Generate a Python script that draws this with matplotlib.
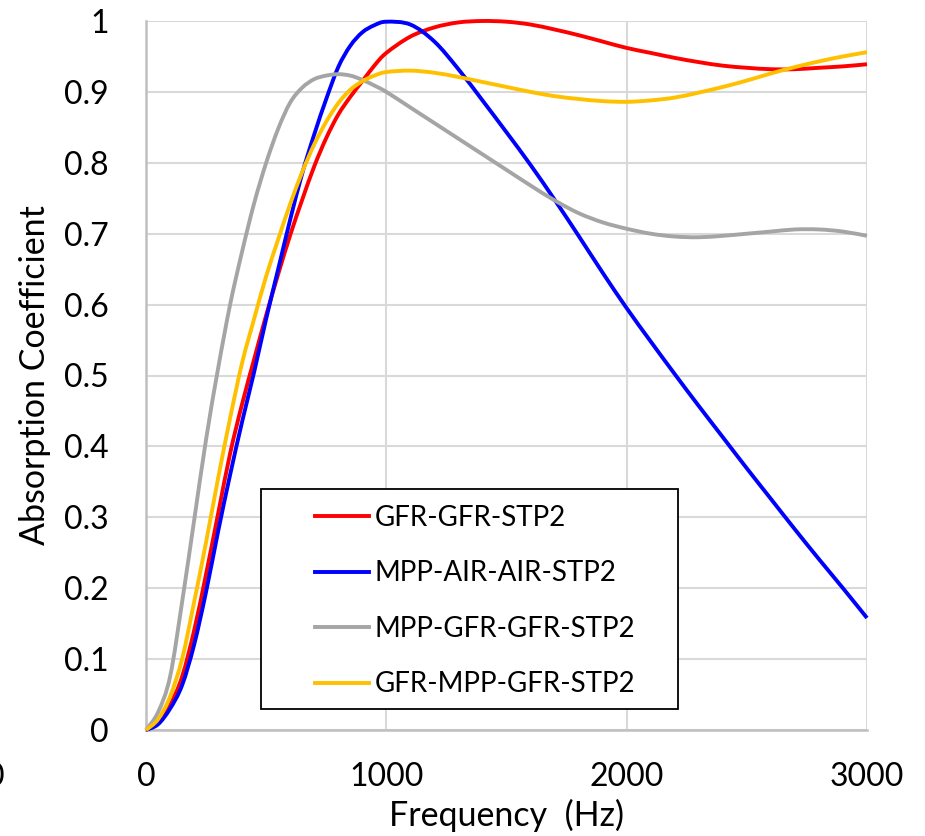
import matplotlib
matplotlib.use("Agg")
import matplotlib.pyplot as plt
from matplotlib.patches import Rectangle, PathPatch
from matplotlib.path import Path
from matplotlib.lines import Line2D

plt.rcParams['font.family'] = ['Lato', 'DejaVu Sans']

freq = list(range(0, 1001, 50)) + list(range(1100, 3001, 100))

gfr_gfr = [0, 0.01, 0.035, 0.075, 0.14, 0.22, 0.305, 0.39, 0.46, 0.523, 0.585,
           0.643, 0.698, 0.748, 0.795, 0.835, 0.868, 0.893, 0.915, 0.937, 0.955,
           0.978, 0.991, 0.998, 1.0, 0.999, 0.995, 0.988, 0.98, 0.971, 0.962,
           0.955, 0.948, 0.942, 0.937, 0.934, 0.932, 0.932, 0.934, 0.936, 0.939]
mpp_air_air = [0, 0.008, 0.03, 0.063, 0.12, 0.195, 0.28, 0.36, 0.435, 0.505,
               0.58, 0.65, 0.72, 0.785, 0.84, 0.89, 0.935, 0.965, 0.984, 0.994,
               0.999, 0.995, 0.971, 0.932, 0.888, 0.843, 0.797, 0.748, 0.697,
               0.645, 0.595, 0.548, 0.502, 0.457, 0.413, 0.369, 0.326, 0.283,
               0.241, 0.2, 0.158]
mpp_gfr_gfr = [0, 0.025, 0.075, 0.18, 0.295, 0.41, 0.51, 0.60, 0.675, 0.743,
               0.80, 0.848, 0.885, 0.906, 0.918, 0.923, 0.925, 0.923, 0.917,
               0.909, 0.90, 0.878, 0.856, 0.834, 0.812, 0.79, 0.768, 0.747,
               0.729, 0.716, 0.707, 0.70, 0.696, 0.695, 0.697, 0.70, 0.703,
               0.706, 0.706, 0.703, 0.697]
gfr_mpp_gfr = [0, 0.015, 0.047, 0.10, 0.18, 0.265, 0.355, 0.44, 0.518, 0.58,
               0.64, 0.692, 0.742, 0.787, 0.826, 0.858, 0.884, 0.903, 0.915,
               0.923, 0.928, 0.93, 0.927, 0.921, 0.914, 0.907, 0.90, 0.894,
               0.89, 0.887, 0.886, 0.888, 0.892, 0.899, 0.907, 0.916, 0.926,
               0.935, 0.943, 0.95, 0.956]

labels = ['GFR-GFR-STP2', 'MPP-AIR-AIR-STP2', 'MPP-GFR-GFR-STP2', 'GFR-MPP-GFR-STP2']
colors = ['#ff0000', '#0000ff', '#a5a5a5', '#ffc000']


def smooth_path(x, y):
    # Excel style smoothed line: cubic bezier through the points
    verts = [(x[0], y[0])]
    codes = [Path.MOVETO]
    n = len(x)
    for i in range(n - 1):
        j0 = max(i - 1, 0)
        j3 = min(i + 2, n - 1)
        c1 = (x[i] + (x[i + 1] - x[j0]) / 6, y[i] + (y[i + 1] - y[j0]) / 6)
        c2 = (x[i + 1] - (x[j3] - x[i]) / 6, y[i + 1] - (y[j3] - y[i]) / 6)
        verts += [c1, c2, (x[i + 1], y[i + 1])]
        codes += [Path.CURVE4] * 3
    return Path(verts, codes)


fig = plt.figure(figsize=(9.25, 8.36), dpi=100)
ax = fig.add_axes([146 / 925, 1 - 730 / 836, 721 / 925, 709 / 836])

handles = []
for y, lab, c in zip([gfr_gfr, mpp_air_air, mpp_gfr_gfr, gfr_mpp_gfr], labels, colors):
    ax.add_patch(PathPatch(smooth_path(freq, y), fill=False, edgecolor=c, lw=2.8,
                           capstyle='butt', zorder=3, clip_on=False))
    handles.append(Line2D([], [], color=c, lw=2.8, label=lab))

ax.set_xlim(0, 3000)
ax.set_ylim(0, 1)
ax.set_xticks([0, 1000, 2000, 3000])
ax.set_yticks([i / 10 for i in range(11)])
ax.set_yticklabels(['0', '0.1', '0.2', '0.3', '0.4', '0.5', '0.6', '0.7', '0.8', '0.9', '1'])
ax.tick_params(length=0, labelsize=23)
ax.tick_params(axis='y', pad=27)
ax.tick_params(axis='x', pad=23)
ax.grid(True, color='#d9d9d9', lw=1.5)
ax.set_axisbelow(True)
for s in ['top', 'right']:
    ax.spines[s].set_visible(False)
for s in ['left', 'bottom']:
    ax.spines[s].set_color('#bfbfbf')
    ax.spines[s].set_linewidth(1.8)

fig.text(507 / 925, 1 - 815 / 836, 'Frequency  (Hz)', ha='center', va='center', fontsize=24.5)
fig.text(35 / 925, 1 - 375 / 836, 'Absorption Coefficient', ha='center', va='center',
         rotation=90, fontsize=24.5)
# clipped tick label fragment at the left edge
fig.text(5 / 925, 1 - 777 / 836, '0', ha='right', va='center', fontsize=23)

# legend frame drawn separately so the padding can differ per side
ax.add_patch(Rectangle(((261 - 146) / 721, (730 - 709) / 709), 417 / 721, 220 / 709,
                       transform=ax.transAxes, fill=True, facecolor='white',
                       edgecolor='black', lw=1.3, zorder=4))
leg = ax.legend(handles=handles, loc='upper left',
                bbox_to_anchor=((315 - 146) / 721, (730 - 505) / 709),
                frameon=False, fontsize=20, borderpad=0, borderaxespad=0,
                handlelength=1.95, handletextpad=0.2, labelspacing=1.06)
leg.set_zorder(5)

fig.savefig('out.png', dpi=100)
